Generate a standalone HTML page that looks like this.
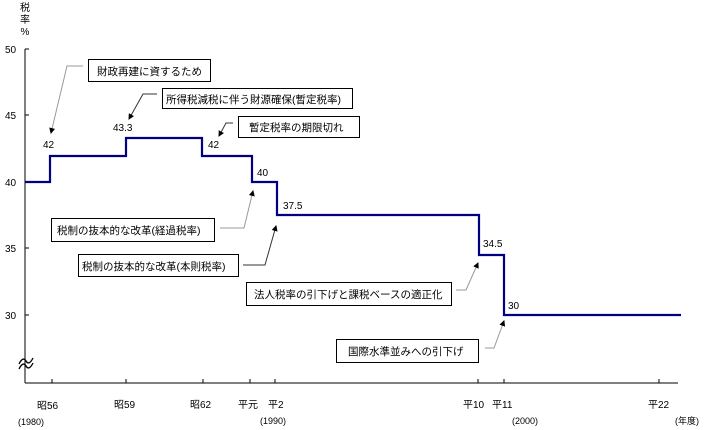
<!DOCTYPE html>
<html><head><meta charset="utf-8"><style>
html,body{margin:0;padding:0;background:#fff;}
svg{display:block;font-family:"Liberation Sans","Noto Sans CJK JP",sans-serif;}
</style></head><body>
<svg width="707" height="430" viewBox="0 0 707 430" xmlns="http://www.w3.org/2000/svg">
<defs><marker id="a" markerWidth="6" markerHeight="6" refX="5" refY="3" orient="auto" markerUnits="userSpaceOnUse"><path d="M0,0 L6,3 L0,6z" fill="#000"/></marker></defs>
<g font-size="10" fill="#000">
<text x="25" y="11" text-anchor="middle">税</text>
<text x="25" y="23" text-anchor="middle">率</text>
<text x="25" y="35" text-anchor="middle">%</text>
<text x="5" y="53">50</text><text x="5" y="119">45</text><text x="5" y="186">40</text><text x="5" y="252">35</text><text x="5" y="319">30</text>
</g>
<g stroke="#000" stroke-width="1" fill="none">
<line x1="25" y1="49" x2="25" y2="383"/>
<line x1="25" y1="383" x2="678" y2="383"/>
<line x1="25" y1="49" x2="29" y2="49"/><line x1="25" y1="115" x2="29" y2="115"/><line x1="25" y1="182" x2="29" y2="182"/><line x1="25" y1="248" x2="29" y2="248"/><line x1="25" y1="315" x2="29" y2="315"/>
<line x1="52" y1="379" x2="52" y2="383"/><line x1="126" y1="379" x2="126" y2="383"/><line x1="203" y1="379" x2="203" y2="383"/><line x1="250" y1="379" x2="250" y2="383"/><line x1="275" y1="379" x2="275" y2="383"/><line x1="478" y1="379" x2="478" y2="383"/><line x1="504" y1="379" x2="504" y2="383"/><line x1="659" y1="379" x2="659" y2="383"/>
<path d="M19,364 q4,-8 7,-3 q3,5 7,-3 M19,369 q4,-8 7,-3 q3,5 7,-3" stroke-width="1.3"/>
</g>
<path d="M25,182 H50 V156 H126 V138 H202 V156 H252 V182 H277 V215 H479 V255 H504 V315 H681" fill="none" stroke="#000080" stroke-width="2.2"/>
<g font-size="10" fill="#000">
<text x="43" y="148">42</text><text x="113" y="131">43.3</text><text x="208" y="148">42</text><text x="257" y="176">40</text><text x="283" y="209">37.5</text><text x="483" y="247">34.5</text><text x="508" y="309">30</text>
<text x="37" y="409">昭56</text><text x="114" y="408">昭59</text><text x="190" y="408">昭62</text><text x="238" y="408">平元</text><text x="268" y="408">平2</text><text x="463" y="408">平10</text><text x="492" y="408">平11</text><text x="648" y="408">平22</text>
<text x="18" y="425" font-size="9">(1980)</text><text x="260" y="424" font-size="9">(1990)</text><text x="512" y="424" font-size="9">(2000)</text><text x="675" y="424" font-size="9">(年度)</text>
</g>
<g fill="#fff" stroke="#000" stroke-width="1">
<rect x="88.5" y="59.5" width="122" height="22"/>
<rect x="162.5" y="88.5" width="190" height="20"/>
<rect x="238.5" y="116.5" width="121" height="21"/>
<rect x="51.5" y="218.5" width="163" height="23"/>
<rect x="78.5" y="254.5" width="160" height="22"/>
<rect x="246.5" y="282.5" width="205" height="23"/>
<rect x="336.5" y="339.5" width="142" height="23"/>
</g>
<g font-size="10.5" fill="#000">
<text x="97" y="75">財政再建に資するため</text>
<text x="166" y="103">所得税減税に伴う財源確保(暫定税率)</text>
<text x="249" y="131">暫定税率の期限切れ</text>
<text x="57" y="234">税制の抜本的な改革(経過税率)</text>
<text x="82" y="270">税制の抜本的な改革(本則税率)</text>
<text x="254" y="298">法人税率の引下げと課税ベースの適正化</text>
<text x="348" y="355">国際水準並みへの引下げ</text>
</g>
<g fill="none" stroke-width="1" marker-end="url(#a)">
<path d="M83,66 H67 L51,133" stroke="#999"/>
<path d="M157,94 H143 L129,119" stroke="#333"/>
<path d="M233,123 H226 L219,136" stroke="#333"/>
<path d="M220,228 H244 L253,191" stroke="#999"/>
<path d="M243,265 H265 L276,226" stroke="#333"/>
<path d="M456,290 H466 L478,263" stroke="#999"/>
<path d="M485,348 H494 L504,321" stroke="#999"/>
</g>
</svg>
</body></html>
